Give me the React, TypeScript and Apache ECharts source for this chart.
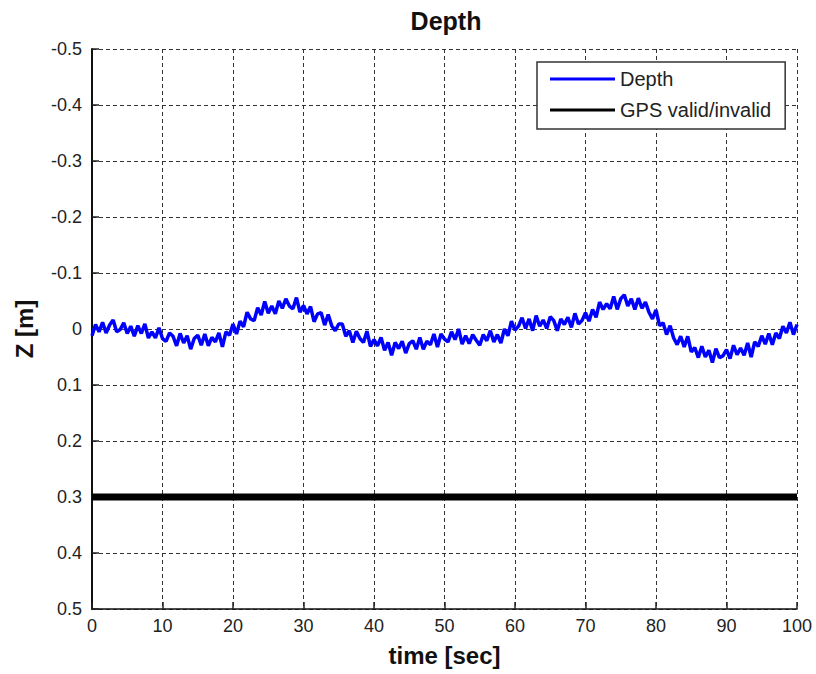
import React, { useEffect, useRef } from "react";
import * as echarts from "echarts";

const TITLE = "Depth";
const X_NAME = "time [sec]";
const Y_NAME = "Z [m]";
const SERIES_NAMES = ["Depth", "GPS valid/invalid"];

// Depth samples, one every 0.5 s from t = 0 to t = 100 (Z in metres, positive down)
const DEPTH_STEP = 0.5;
const depthValues = [
  0.012,
  -0.008, 0.005, -0.012, 0.007, -0.007, -0.016, 0.005, 0.001, -0.011, 0.008,
  -0.005, 0.013, -0.006, 0.008, -0.009, 0.016, 0.005, 0.016, -0.002, 0.017,
  0.022, 0.007, 0.013, 0.030, 0.008, 0.025, 0.012, 0.036, 0.017, 0.011,
  0.029, 0.009, 0.030, 0.015, 0.023, 0.007, 0.032, 0.005, 0.011, -0.009,
  0.009, -0.014, -0.004, -0.030, -0.018, -0.015, -0.038, -0.025, -0.049, -0.028,
  -0.041, -0.027, -0.050, -0.037, -0.054, -0.041, -0.036, -0.056, -0.030, -0.042,
  -0.027, -0.040, -0.013, -0.027, -0.029, -0.007, -0.026, -0.006, 0.003, -0.009,
  -0.009, 0.013, 0.003, 0.024, 0.004, 0.017, 0.024, 0.004, 0.031, 0.019,
  0.030, 0.015, 0.038, 0.024, 0.047, 0.024, 0.035, 0.022, 0.043, 0.026,
  0.021, 0.036, 0.015, 0.036, 0.022, 0.028, 0.009, 0.032, 0.009, 0.018,
  0.023, 0.005, 0.019, 0.000, 0.027, 0.012, 0.026, 0.010, 0.020, 0.029,
  0.010, 0.021, 0.003, 0.023, 0.010, 0.025, 0.000, 0.012, -0.014, 0.002,
  -0.005, -0.020, -0.001, -0.018, 0.003, -0.024, -0.005, -0.016, -0.001, -0.022,
  -0.015, 0.003, -0.018, -0.008, -0.021, -0.003, -0.028, -0.009, -0.015, -0.029,
  -0.014, -0.035, -0.021, -0.048, -0.035, -0.045, -0.036, -0.058, -0.035, -0.054,
  -0.061, -0.041, -0.054, -0.035, -0.055, -0.037, -0.048, -0.030, -0.018, -0.034,
  -0.006, -0.011, 0.010, -0.006, 0.016, 0.028, 0.013, 0.032, 0.013, 0.041,
  0.033, 0.051, 0.031, 0.050, 0.038, 0.060, 0.035, 0.051, 0.048, 0.037,
  0.053, 0.029, 0.046, 0.034, 0.047, 0.025, 0.050, 0.023, 0.031, 0.012,
  0.027, 0.008, 0.028, 0.007, 0.017, -0.005, 0.007, -0.012, 0.010, -0.008,
];

// GPS valid/invalid flag line
const gpsTimes = [0, 100];
const gpsValues = [0.3, 0.3];

const X_MIN = 0;
const X_MAX = 100;
const X_STEP = 10;
const Y_MIN = -0.5;
const Y_MAX = 0.5;
const Y_STEP = 0.1;

export default function App() {
  const ref = useRef<HTMLDivElement>(null);

  useEffect(() => {
    if (!ref.current) return;
    const chart = echarts.init(ref.current, undefined, { renderer: "svg" });
    const font = "'Liberation Sans', Arial, Helvetica, sans-serif";
    const depthData = depthValues.map((v, i) => [i * DEPTH_STEP, v]);
    const gpsData = gpsTimes.map((t, i) => [t, gpsValues[i]]);
    const gridLine = { show: true, lineStyle: { color: "#333", width: 1, type: [4, 3] as any } };

    chart.setOption({
      animation: false,
      backgroundColor: "#ffffff",
      textStyle: { fontFamily: font },
      title: {
        text: TITLE,
        left: 441,
        textAlign: "center",
        top: 3,
        textStyle: { fontFamily: font, fontSize: 25, fontWeight: "bold", color: "#111" },
      },
      legend: {
        orient: "vertical",
        left: 537,
        top: 62,
        padding: [7, 14, 9, 13],
        icon: "rect",
        itemWidth: 65,
        itemHeight: 3,
        itemGap: 11,
        backgroundColor: "#ffffff",
        borderColor: "#333",
        borderWidth: 1.5,
        borderRadius: 0,
        textStyle: { fontFamily: font, fontSize: 20, color: "#222", lineHeight: 20 },
        data: SERIES_NAMES,
      },
      grid: { left: 92, right: 19, top: 49, bottom: 65, containLabel: false },
      xAxis: {
        type: "value",
        min: X_MIN,
        max: X_MAX,
        interval: X_STEP,
        name: X_NAME,
        nameLocation: "middle",
        nameGap: 34,
        nameTextStyle: { fontFamily: font, fontSize: 24, fontWeight: "bold", color: "#111" },
        axisLine: { show: true, onZero: false, lineStyle: { color: "#111", width: 1.5 } },
        axisTick: { show: true, inside: true, length: 7, lineStyle: { color: "#222", width: 1.5 } },
        axisLabel: { fontFamily: font, fontSize: 18, color: "#222", margin: 8 },
        splitLine: gridLine,
      },
      yAxis: {
        type: "value",
        inverse: true,
        min: Y_MIN,
        max: Y_MAX,
        interval: Y_STEP,
        name: Y_NAME,
        nameLocation: "middle",
        nameRotate: 90,
        nameGap: 56,
        nameTextStyle: { fontFamily: font, fontSize: 24, fontWeight: "bold", color: "#111" },
        axisLine: { show: true, onZero: false, lineStyle: { color: "#111", width: 2 } },
        axisTick: { show: true, inside: true, length: 7, lineStyle: { color: "#222", width: 1.5 } },
        axisLabel: {
          fontFamily: font,
          fontSize: 18,
          color: "#222",
          margin: 10,
          formatter: (v: number) => String(Math.round(v * 10) / 10),
        },
        splitLine: gridLine,
      },
      series: [
        {
          name: SERIES_NAMES[0],
          type: "line",
          data: depthData,
          symbol: "none",
          showSymbol: false,
          lineStyle: { color: "#0000ff", width: 3.5 },
          itemStyle: { color: "#0000ff" },
          z: 3,
        },
        {
          name: SERIES_NAMES[1],
          type: "line",
          data: gpsData,
          symbol: "none",
          showSymbol: false,
          lineStyle: { color: "#000000", width: 7 },
          itemStyle: { color: "#000000" },
          z: 3,
        },
      ],
    });

    return () => chart.dispose();
  }, []);

  return (
    <div
      ref={ref}
      style={{ position: "fixed", left: 0, top: 0, width: 816, height: 674, background: "#fff" }}
    />
  );
}
